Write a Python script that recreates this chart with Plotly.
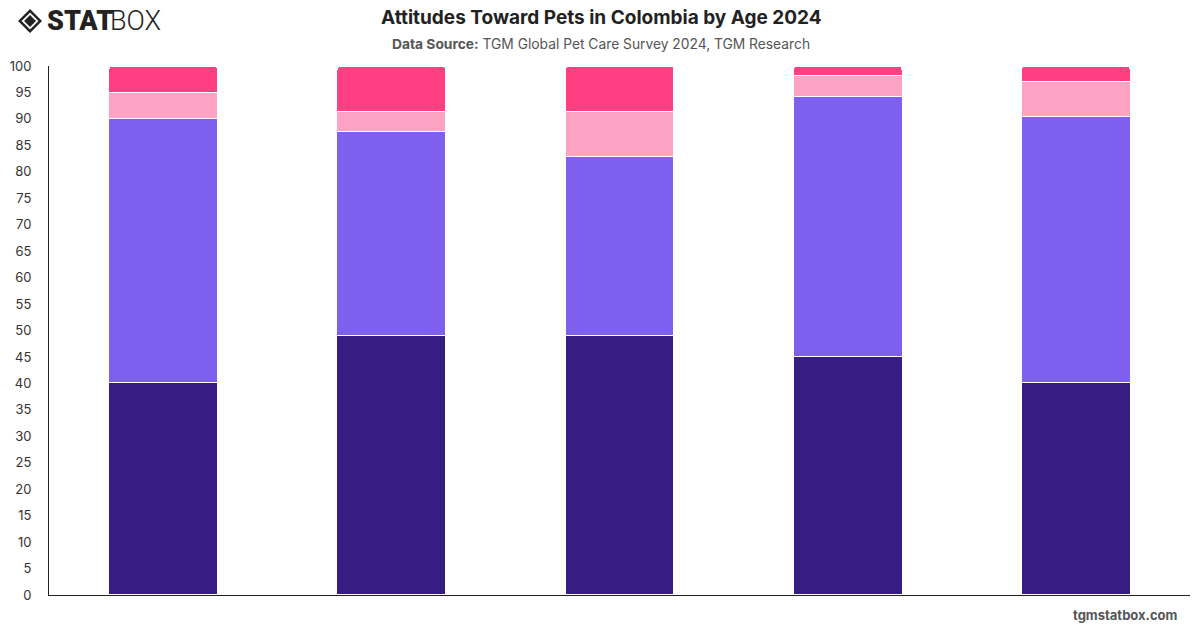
import plotly.graph_objects as go

categories = ["18-24", "25-34", "35-44", "45-54", "55+"]
series_names = ["Strongly agree", "Somewhat agree", "Somewhat disagree", "Strongly disagree"]
s1 = [40.2, 49.1, 49.0, 45.1, 40.2]
s2 = [49.9, 38.5, 33.9, 49.2, 50.2]
s3 = [4.9, 3.8, 8.5, 3.9, 6.7]
s4 = [5.0, 8.6, 8.6, 1.8, 2.9]
colors = ["#371c84", "#7f5fee", "#ffa3c4", "#ff3f82"]
y_ticks = list(range(0, 101, 5))

fig = go.Figure()
for name, vals, col in zip(series_names, [s1, s2, s3, s4], colors):
    fig.add_trace(go.Bar(x=categories, y=vals, name=name,
                         marker=dict(color=col, line=dict(color="white", width=1.2)),
                         hovertemplate="%{x}: %{y}%<extra>" + name + "</extra>"))

fig.update_layout(
    barmode="stack", bargap=0.523, barcornerradius=4,
    width=1200, height=628,
    margin=dict(l=47, r=10, t=66, b=33),
    paper_bgcolor="white", plot_bgcolor="white",
    showlegend=False,
    font=dict(family="Inter, Roboto, sans-serif", color="#333"),
    xaxis=dict(showticklabels=False, showline=True, linecolor="#222", linewidth=1,
               ticks="", showgrid=False, zeroline=False),
    yaxis=dict(range=[0, 100], tickvals=y_ticks, showgrid=False, zeroline=False,
               showline=True, linecolor="#222", linewidth=1,
               ticks="outside", ticklen=14, tickcolor="rgba(0,0,0,0)",
               tickfont=dict(size=13, color="#333")),
)

fig.add_annotation(text="<b>Attitudes Toward Pets in Colombia by Age 2024</b>",
                   x=600, y=17, xref="paper", yref="paper", showarrow=False,
                   font=dict(size=19, color="#222"))
fig.add_annotation(text="<b>Data Source:</b> TGM Global Pet Care Survey 2024, TGM Research",
                   x=600, y=44, xref="paper", yref="paper", showarrow=False,
                   font=dict(size=13.8, color="#555"))
fig.add_annotation(text="<b>tgmstatbox.com</b>",
                   x=1180, y=615, xref="paper", yref="paper", showarrow=False, xanchor="right",
                   font=dict(size=13, color="#555"))
fig.add_annotation(text="STAT",
                   x=44, y=21, xref="paper", yref="paper", showarrow=False, xanchor="left",
                   borderpad=0,
                   font=dict(size=27, color="#222", family="Roboto", weight=900))
fig.add_annotation(text="BOX",
                   x=107, y=21, xref="paper", yref="paper", showarrow=False, xanchor="left",
                   borderpad=0,
                   font=dict(size=27, color="#222", family="Roboto", weight=300))

# convert annotation pixel positions to paper coords
pw = 1200 - 47 - 10
ph = 628 - 66 - 33
for a in fig.layout.annotations:
    a.x = (a.x - 47) / pw
    a.y = 1 - (a.y - 66) / ph
    a.yanchor = "middle"

def px(x, y):
    return (x - 47) / pw, 1 - (y - 66) / ph

def diamond(cx, cy, r):
    pts = [px(cx, cy - r), px(cx + r, cy), px(cx, cy + r), px(cx - r, cy)]
    return "M " + " L ".join(f"{a:.5f},{b:.5f}" for a, b in pts) + " Z"

fig.add_shape(type="path", path=diamond(28, 21, 12), xref="paper", yref="paper",
              fillcolor="#222", line=dict(width=0))
fig.add_shape(type="path", path=diamond(28, 21, 8.5), xref="paper", yref="paper",
              fillcolor="white", line=dict(width=0))
fig.add_shape(type="path", path=diamond(28, 21, 6), xref="paper", yref="paper",
              fillcolor="#222", line=dict(width=0))

fig.write_html("out.html")
